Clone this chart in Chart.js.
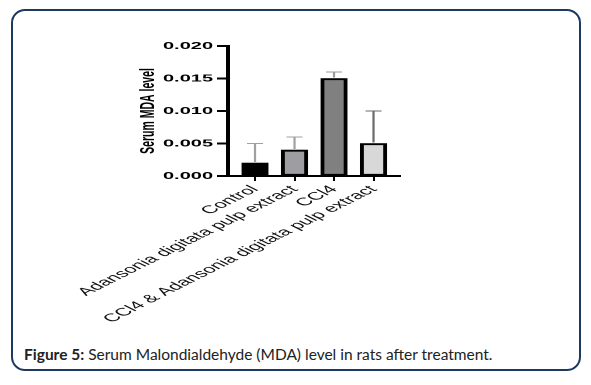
<!DOCTYPE html>
<html>
<head>
<meta charset="utf-8">
<script src="https://cdn.jsdelivr.net/npm/chart.js@4.4.1/dist/chart.umd.min.js"></script>
<style>
  body { margin: 0; background: #fff; width: 591px; height: 385px; overflow: hidden; }
  #card {
    position: absolute; left: 11px; top: 9px; width: 570px; height: 362px;
    border: 2px solid #1c3a60; border-radius: 14px; box-sizing: border-box;
  }
  /* the source figure is a horizontally stretched Prism export, so stretch the canvas too */
  #chartBox {
    position: absolute; left: 60px; top: 20px; width: 172px; height: 306px;
    transform: scaleX(2); transform-origin: 0 0;
  }
  #caption {
    position: absolute; left: 24px; top: 345px;
    font-family: Lato, "Open Sans", sans-serif; font-size: 15.5px; color: #222;
  }
</style>
</head>
<body>
<div id="card"></div>
<div id="chartBox"><canvas id="mdaChart"></canvas></div>
<div id="caption"><b>Figure 5:</b> Serum Malondialdehyde (MDA) level in rats after treatment.</div>
<script>
// Groups and values
const groups = ['Control', 'Adansonia digitata pulp extract', 'CCl4', 'CCl4 & Adansonia digitata pulp extract'];
const mdaMean = [0.002, 0.004, 0.015, 0.005];
const mdaUpper = [0.005, 0.006, 0.016, 0.010];
const yTickStep = 0.005;
const yMax = 0.020;

const barFills = ['#000000', '#9d9da2', '#808080', '#d8d8d8'];
const errColors = ['#a0a0a0', '#a0a0a0', '#9a9a9a', '#6a6a6a'];

// Upper error bars (Prism style: line + cap above the bar)
const errorBars = {
    id: 'errorBars',
    afterDatasetsDraw(chart) {
        const ctx = chart.ctx;
        const xs = chart.scales.x, ys = chart.scales.y;
        ctx.save();
        groups.forEach((g, i) => {
            const x = xs.getPixelForValue(i + 1);
            const yTop = ys.getPixelForValue(mdaUpper[i]);
            const yBar = ys.getPixelForValue(mdaMean[i]);
            ctx.strokeStyle = errColors[i];
            ctx.lineWidth = 1.1;
            ctx.beginPath();
            ctx.moveTo(x, yBar - 1);
            ctx.lineTo(x, yTop);
            ctx.moveTo(x - 4, yTop);
            ctx.lineTo(x + 4, yTop);
            ctx.stroke();
        });
        ctx.restore();
    }
};

new Chart(document.getElementById('mdaChart'), {
    type: 'bar',
    data: {
        datasets: [{
            data: groups.map((g, i) => ({ x: i + 1, y: mdaMean[i] })),
            backgroundColor: barFills,
            borderColor: '#000',
            borderWidth: 2,
            borderSkipped: false,
            barThickness: 13
        }]
    },
    options: {
        responsive: true,
        maintainAspectRatio: false,
        devicePixelRatio: 2,
        animation: false,
        layout: { padding: { left: 38, right: 2, top: 26, bottom: 2 } },
        plugins: { legend: { display: false }, tooltip: { enabled: false } },
        scales: {
            x: {
                type: 'linear',
                offset: false,
                min: 0.316,
                max: 4.67,
                afterBuildTicks: scale => { scale.ticks = groups.map((g, i) => ({ value: i + 1 })); },
                // labels are clipped to the scale box, so give it the full label depth
                afterFit: scale => { scale.height = 148; },
                ticks: {
                    autoSkip: false,
                    minRotation: 45,
                    maxRotation: 45,
                    padding: 2,
                    color: '#111',
                    font: { family: '"Liberation Sans", Arial, sans-serif', size: 11 },
                    callback: v => groups[v - 1]
                },
                grid: { offset: false, drawOnChartArea: false, tickLength: 5, tickWidth: 1, tickColor: '#000' },
                border: { color: '#000', width: 2 }
            },
            y: {
                min: 0,
                max: yMax,
                afterFit: scale => { scale.width = 46; },
                ticks: {
                    stepSize: yTickStep,
                    padding: 2,
                    color: '#000',
                    font: { family: '"Liberation Sans", Arial, sans-serif', size: 10, weight: 'bold' },
                    callback: v => v.toFixed(3)
                },
                grid: { drawOnChartArea: false, tickLength: 5.5, tickWidth: 2, tickColor: '#000' },
                border: { color: '#000', width: 2 },
                title: {
                    display: true,
                    text: 'Serum MDA level',
                    padding: 0,
                    color: '#000',
                    font: { family: '"Liberation Sans", Arial, sans-serif', size: 10.5, weight: 'bold' }
                }
            }
        }
    },
    plugins: [errorBars]
});
</script>
</body>
</html>
